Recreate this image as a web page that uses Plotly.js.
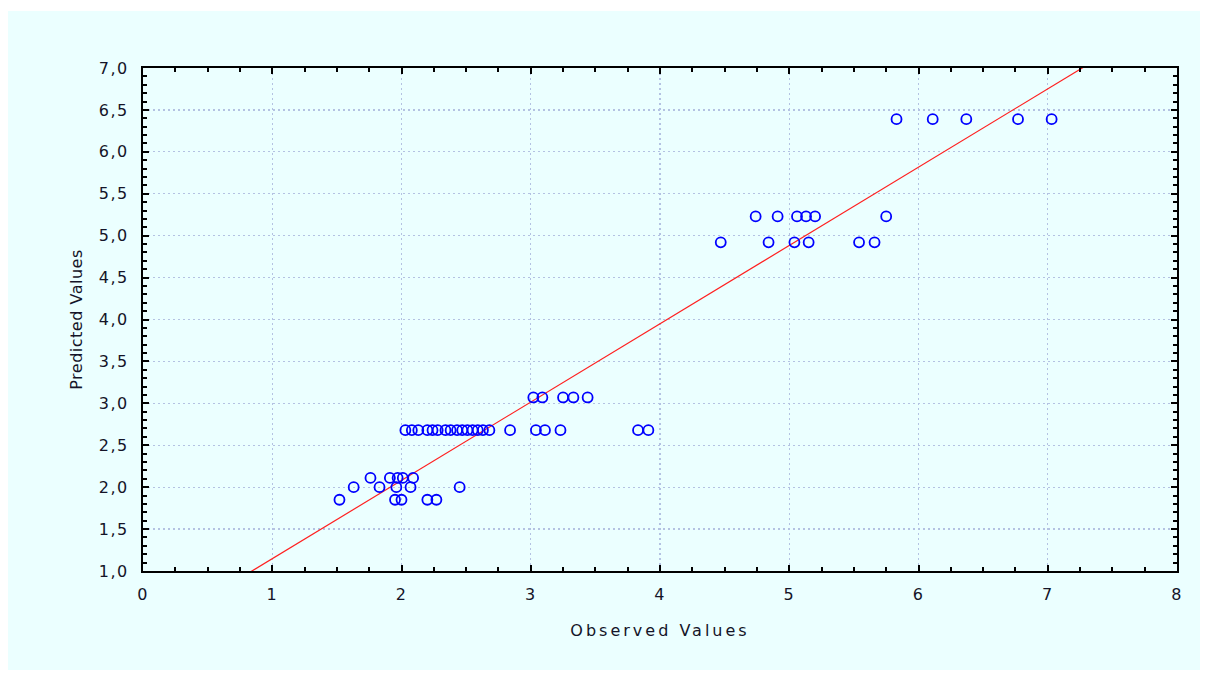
<!DOCTYPE html>
<html>
<head>
<meta charset="utf-8">
<script src="https://cdn.plot.ly/plotly-3.0.1.min.js"></script>
<style>
  html, body { margin: 0; padding: 0; background: #ffffff; }
  #frame { position: absolute; left: 8px; top: 11px; width: 1192px; height: 659px; background: #ebffff; }
  #chart { width: 1192px; height: 659px; }
  .xtick text, .ytick text { letter-spacing: 1.5px; }
  .xtitle { letter-spacing: 3px; }
  .ytitle { letter-spacing: 0.5px; }
</style>
</head>
<body>
<div id="frame"><div id="chart"></div></div>
<script>
// Observed values (x) and predicted values (y)
const observed = [
  // predicted 6.39
  5.83, 6.11, 6.37, 6.77, 7.03,
  // predicted 5.23
  4.74, 4.91, 5.06, 5.13, 5.20, 5.75,
  // predicted 4.92
  4.47, 4.84, 5.04, 5.15, 5.54, 5.66,
  // predicted 3.07
  3.02, 3.09, 3.25, 3.33, 3.44,
  // predicted 2.68
  2.03, 2.08, 2.13, 2.20, 2.24, 2.28, 2.34, 2.38, 2.43, 2.47, 2.51, 2.55, 2.59, 2.63, 2.68, 2.84,
  3.04, 3.11, 3.23, 3.83, 3.91,
  // predicted 2.11
  1.76, 1.91, 1.97, 2.01, 2.09,
  // predicted 2.00
  1.63, 1.83, 1.96, 2.07, 2.45,
  // predicted 1.85
  1.52, 1.95, 2.00, 2.20, 2.27
];
const predicted = [
  6.39, 6.39, 6.39, 6.39, 6.39,
  5.23, 5.23, 5.23, 5.23, 5.23, 5.23,
  4.92, 4.92, 4.92, 4.92, 4.92, 4.92,
  3.07, 3.07, 3.07, 3.07, 3.07,
  2.68, 2.68, 2.68, 2.68, 2.68, 2.68, 2.68, 2.68, 2.68, 2.68, 2.68, 2.68, 2.68, 2.68, 2.68, 2.68,
  2.68, 2.68, 2.68, 2.68, 2.68,
  2.11, 2.11, 2.11, 2.11, 2.11,
  2.00, 2.00, 2.00, 2.00, 2.00,
  1.85, 1.85, 1.85, 1.85, 1.85
];
// Fitted line: predicted = intercept + slope * observed
const fitIntercept = 0.213;
const fitSlope = 0.934;
const fitX = [0, 8];
const fitY = fitX.map(v => fitIntercept + fitSlope * v);

const xTicks = [0, 1, 2, 3, 4, 5, 6, 7, 8];
const yTicks = [1.0, 1.5, 2.0, 2.5, 3.0, 3.5, 4.0, 4.5, 5.0, 5.5, 6.0, 6.5, 7.0];

const fontFam = '"DejaVu Sans", Verdana, sans-serif';
const textColor = '#141428';

const traces = [
  {
    x: fitX, y: fitY, type: 'scatter', mode: 'lines',
    line: { color: '#ff2020', width: 1.2 },
    hoverinfo: 'skip', showlegend: false
  },
  {
    x: observed, y: predicted, type: 'scatter', mode: 'markers',
    marker: { symbol: 'circle-open', size: 10, color: '#0000ff', line: { color: '#0000ff', width: 1.8 } },
    showlegend: false
  }
];

const axisCommon = {
  showline: true, linecolor: '#000', linewidth: 2, mirror: 'ticks',
  ticks: 'inside', ticklen: 6, tickwidth: 2, tickcolor: '#000',
  showgrid: true, gridcolor: '#b4c2e2', gridwidth: 1.2, griddash: '2px,3px',
  zeroline: false,
  tickfont: { family: fontFam, size: 16, color: textColor },
  fixedrange: true
};

const layout = {
  width: 1192, height: 659,
  paper_bgcolor: '#ebffff', plot_bgcolor: '#ebffff',
  margin: { l: 135, r: 23, t: 57, b: 99 },
  separators: ',.',
  font: { family: fontFam, color: textColor },
  xaxis: Object.assign({}, axisCommon, {
    range: [0, 8], tickmode: 'array', tickvals: xTicks,
    ticklabelstandoff: 8,
    minor: { dtick: 0.25, ticks: 'inside', ticklen: 4, tickwidth: 2, tickcolor: '#000', showgrid: false },
    title: { text: 'Observed Values', font: { family: fontFam, size: 16, color: textColor }, standoff: 22 }
  }),
  yaxis: Object.assign({}, axisCommon, {
    range: [1, 7], tickmode: 'array', tickvals: yTicks, tickformat: '.1f',
    ticklabelstandoff: 9,
    minor: { dtick: 0.1, ticks: 'inside', ticklen: 4, tickwidth: 2, tickcolor: '#000', showgrid: false },
    title: { text: 'Predicted Values', font: { family: fontFam, size: 16, color: textColor }, standoff: 12 }
  })
};

Plotly.newPlot('chart', traces, layout, { displayModeBar: false, staticPlot: true });
</script>
</body>
</html>
